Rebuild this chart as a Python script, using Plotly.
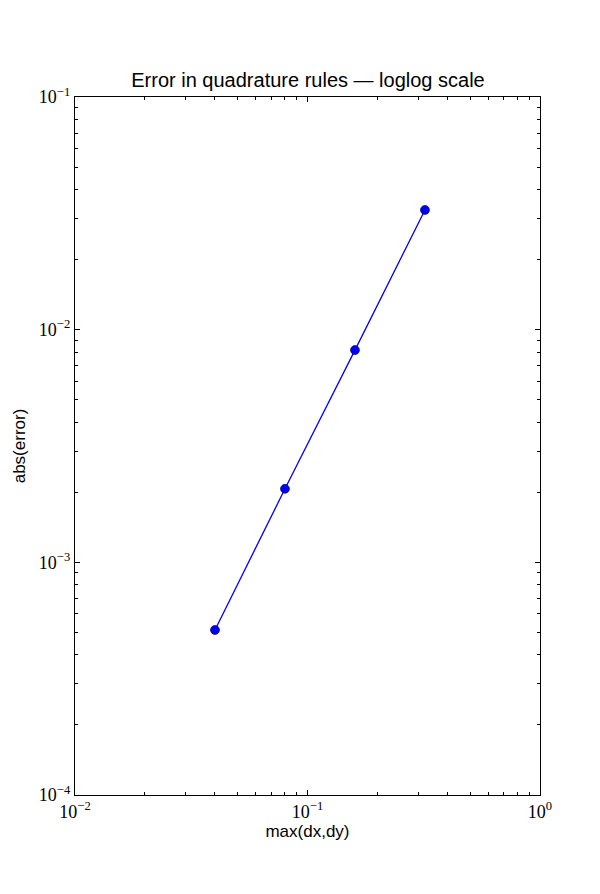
import plotly.graph_objects as go

h_values = [0.04, 0.08, 0.16, 0.32]
errors = [5.12e-4, 2.07e-3, 8.17e-3, 3.27e-2]
x_tickvals = [0.01, 0.1, 1]
x_ticktext = ["10<sup>−2</sup>", "10<sup>−1</sup>", "10<sup>0</sup>"]
y_tickvals = [1e-4, 1e-3, 1e-2, 1e-1]
y_ticktext = ["10<sup>−4</sup>", "10<sup>−3</sup>", "10<sup>−2</sup>", "10<sup>−1</sup>"]
x_minor = [d * m for d in x_tickvals[:-1] for m in range(2, 10)]
y_minor = [d * m for d in y_tickvals[:-1] for m in range(2, 10)]

fig = go.Figure()
fig.add_trace(go.Scatter(
    x=h_values, y=errors, mode="lines+markers",
    line=dict(color="#0000ff", width=1.3),
    marker=dict(color="#0000ff", size=9, line=dict(color="#000033", width=0.6)),
    showlegend=False,
))

axis_common = dict(
    type="log", showgrid=False, zeroline=False, automargin=False,
    showline=True, linecolor="black", linewidth=1.3, mirror="allticks",
    ticks="inside", ticklen=5, tickwidth=1, tickcolor="black",
    tickfont=dict(family="Liberation Serif, DejaVu Serif, serif", size=18, color="black"),
)

fig.update_layout(
    width=600, height=894,
    paper_bgcolor="white", plot_bgcolor="white",
    margin=dict(l=67, r=68, t=89, b=107),
    title=dict(text="Error in quadrature rules — loglog scale", x=0.5, xanchor="center",
               y=1 - 72 / 894, yanchor="middle", automargin=False,
               font=dict(family="Liberation Sans, Arial, sans-serif", size=20, color="black")),
    xaxis=dict(range=[-2, 0], tickvals=x_tickvals, ticktext=x_ticktext,
               minor=dict(tickvals=x_minor, ticks="inside", ticklen=2.5, tickwidth=1,
                          tickcolor="black", showgrid=False),
               title=dict(text="max(dx,dy)", standoff=0,
                          font=dict(family="Liberation Sans, Arial, sans-serif", size=17, color="black")),
               **axis_common),
    yaxis=dict(range=[-4, -1], tickvals=y_tickvals, ticktext=y_ticktext,
               minor=dict(tickvals=y_minor, ticks="inside", ticklen=2.5, tickwidth=1,
                          tickcolor="black", showgrid=False),
               title=dict(text="abs(error)", standoff=8,
                          font=dict(family="Liberation Sans, Arial, sans-serif", size=17, color="black")),
               **axis_common),
)

fig.write_html("out.html")
